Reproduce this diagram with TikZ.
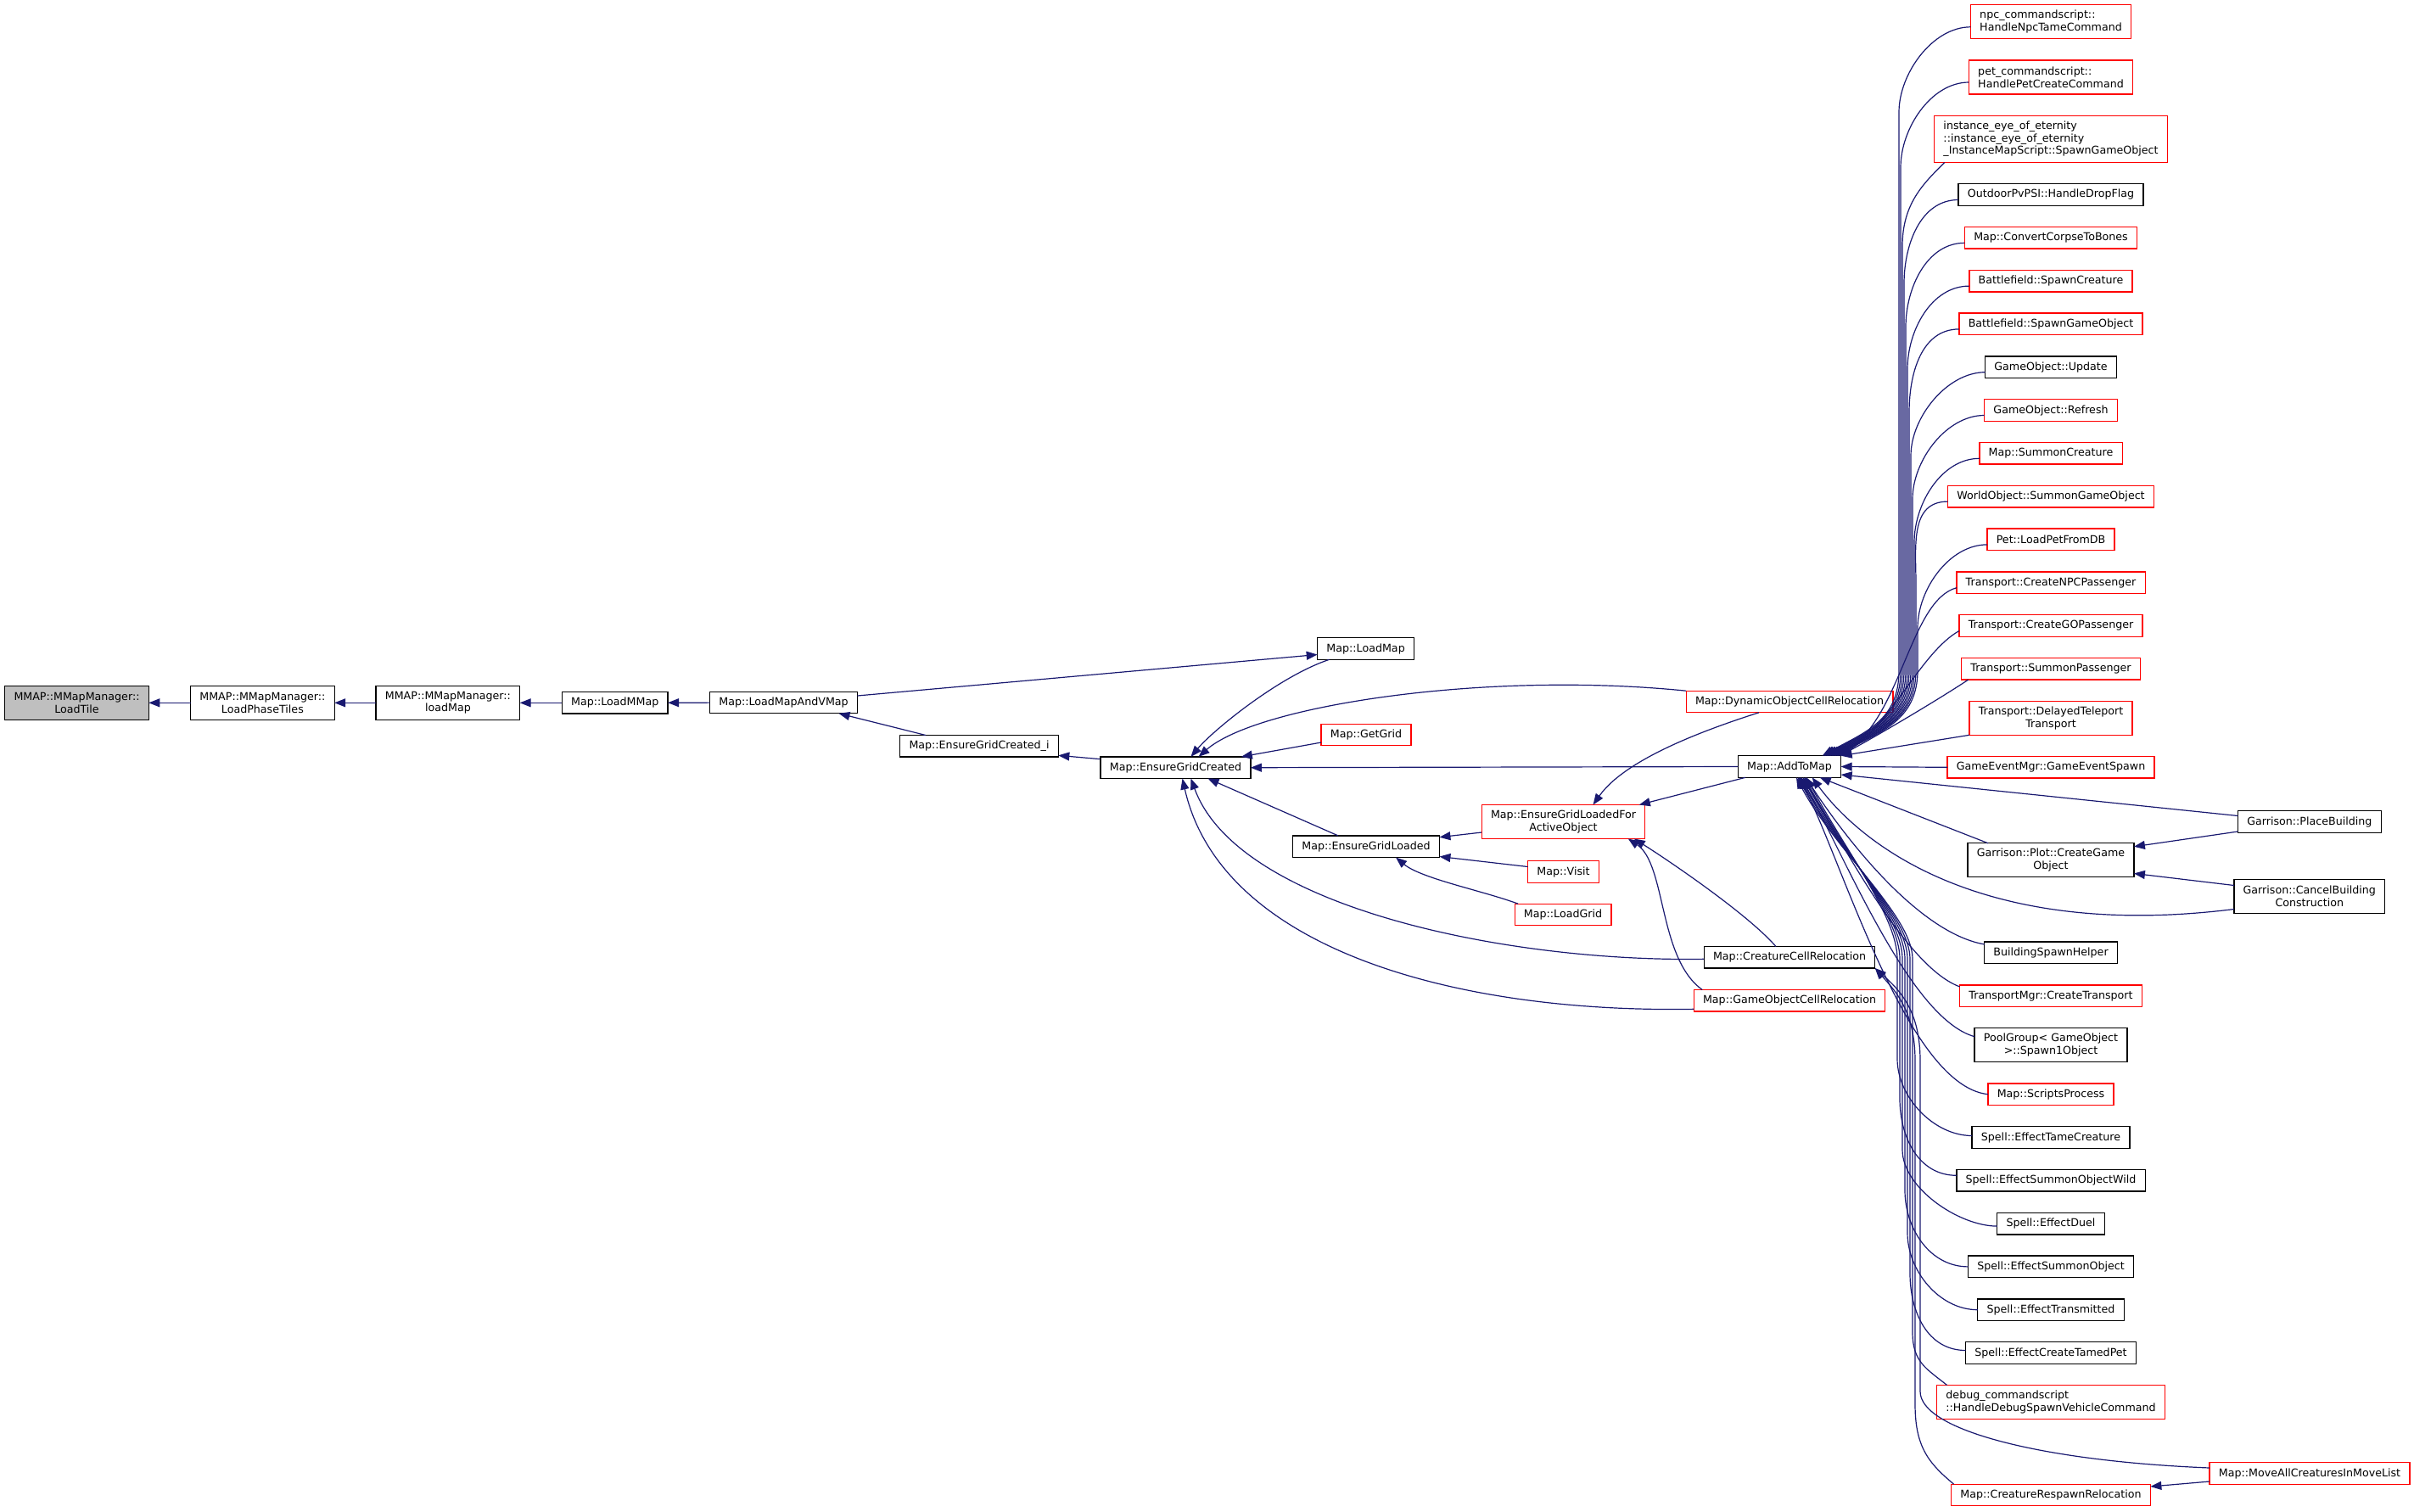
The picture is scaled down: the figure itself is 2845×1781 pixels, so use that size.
\documentclass[tikz,border=0pt]{standalone}
\usepackage{fontspec}
\setmainfont{DejaVu Sans}
\usetikzlibrary{arrows.meta,positioning}
\definecolor{edgeBlue}{HTML}{191970}
\definecolor{nodeRed}{HTML}{FF0000}
\definecolor{rootGrey}{HTML}{BFBFBF}

\begin{document}
\begin{tikzpicture}[
    x=1pt, y=-1pt,
    node distance=25.2pt,
    fn/.style={
      rectangle, draw=black, line width=1.3pt, fill=white, align=center,
      font=\fontsize{12.65pt}{14.7pt}\selectfont, outer sep=0pt,
      inner xsep=10.8pt, inner ysep=2pt, minimum height=25.6pt
    },
    fnred/.style={fn, draw=nodeRed},
    fnroot/.style={fn, fill=rootGrey},
    two/.style={minimum height=40pt},
    three/.style={minimum height=55.3pt},
    edge/.style={draw=edgeBlue, line width=1.2pt, {Triangle[length=13pt,width=10pt]}-}
  ]
  \useasboundingbox (0,0) rectangle (2845,1781);

  % left chain
  \node[fnroot, two] (loadTile) at (90.5,828.3) {MMAP::MMapManager::\\LoadTile};
  \node[fn, two] (loadPhaseTiles) at (309.4,828.3) {MMAP::MMapManager::\\LoadPhaseTiles};
  \node[fn, two] (loadMapMM) at (527.9,828.3) {MMAP::MMapManager::\\loadMap};
  \node[fn] (loadMMap) at (724.7,828.3) {Map::LoadMMap};
  \node[fn] (loadMapAndVMap) at (923.5,828) {Map::LoadMapAndVMap};
  \node[fn] (ensureGridCreatedI) at (1154,879.3) {Map::EnsureGridCreated\_i};
  \node[fn] (ensureGridCreated) at (1385.5,904.7) {Map::EnsureGridCreated};
  \node[fn] (loadMap) at (1609.6,764.5) {Map::LoadMap};
  \node[fnred] (getGrid) at (1610,866) {Map::GetGrid};
  \node[fn] (ensureGridLoaded) at (1610,997.7) {Map::EnsureGridLoaded};
  \node[fnred, two] (ensureGridLoadedFAO) at (1842.5,968.5) {Map::EnsureGridLoadedFor\\ActiveObject};
  \node[fnred] (visit) at (1842.5,1027.5) {Map::Visit};
  \node[fnred] (loadGrid) at (1842,1078) {Map::LoadGrid};
  \node[fnred] (dynObjCellReloc) at (2109,827) {Map::DynamicObjectCellRelocation};
  \node[fn] (addToMap) at (2109,903.5) {Map::AddToMap};
  \node[fn] (creatureCellReloc) at (2109,1128.3) {Map::CreatureCellRelocation};
  \node[fnred] (goCellReloc) at (2109,1179.3) {Map::GameObjectCellRelocation};

  % right column
  \node[fnred, two, align=left] (npcTame) at (2417,25.8) {npc\_commandscript::\\HandleNpcTameCommand};
  \node[fnred, two, align=left, below=of npcTame] (petCreate) {pet\_commandscript::\\HandlePetCreateCommand};
  \node[fnred, three, align=left, below=of petCreate] (eyeSpawnGO) {instance\_eye\_of\_eternity\\::instance\_eye\_of\_eternity\\\_InstanceMapScript::SpawnGameObject};
  \node[fn, below=of eyeSpawnGO] (dropFlag) {OutdoorPvPSI::HandleDropFlag};
  \node[fnred, below=of dropFlag] (corpseToBones) {Map::ConvertCorpseToBones};
  \node[fnred, below=of corpseToBones] (bfSpawnCreature) {Battlefield::SpawnCreature};
  \node[fnred, below=of bfSpawnCreature] (bfSpawnGO) {Battlefield::SpawnGameObject};
  \node[fn, below=of bfSpawnGO] (goUpdate) {GameObject::Update};
  \node[fnred, below=of goUpdate] (goRefresh) {GameObject::Refresh};
  \node[fnred, below=of goRefresh] (summonCreature) {Map::SummonCreature};
  \node[fnred, below=of summonCreature] (summonGO) {WorldObject::SummonGameObject};
  \node[fnred, below=of summonGO] (loadPetFromDB) {Pet::LoadPetFromDB};
  \node[fnred, below=of loadPetFromDB] (createNPCPass) {Transport::CreateNPCPassenger};
  \node[fnred, below=of createNPCPass] (createGOPass) {Transport::CreateGOPassenger};
  \node[fnred, below=of createGOPass] (summonPass) {Transport::SummonPassenger};
  \node[fnred, two, below=of summonPass] (delayedTeleport) {Transport::DelayedTeleport\\Transport};
  \node[fnred, below=of delayedTeleport] (gameEventSpawn) {GameEventMgr::GameEventSpawn};
  \node[fn, two, below=76.7pt of gameEventSpawn] (plotCreateGO) {Garrison::Plot::CreateGame\\Object};
  \node[fn, below=76.3pt of plotCreateGO] (buildingSpawnHelper) {BuildingSpawnHelper};
  \node[fnred, below=of buildingSpawnHelper] (createTransport) {TransportMgr::CreateTransport};
  \node[fn, two, below=of createTransport] (spawnOneObject) {PoolGroup< GameObject\\ >::Spawn1Object};
  \node[fnred, below=of spawnOneObject] (scriptsProcess) {Map::ScriptsProcess};
  \node[fn, below=of scriptsProcess] (effTame) {Spell::EffectTameCreature};
  \node[fn, below=of effTame] (effSummonWild) {Spell::EffectSummonObjectWild};
  \node[fn, below=of effSummonWild] (effDuel) {Spell::EffectDuel};
  \node[fn, below=of effDuel] (effSummonObj) {Spell::EffectSummonObject};
  \node[fn, below=of effSummonObj] (effTransmitted) {Spell::EffectTransmitted};
  \node[fn, below=of effTransmitted] (effCreateTamedPet) {Spell::EffectCreateTamedPet};
  \node[fnred, two, align=left, below=of effCreateTamedPet] (debugSpawnVehicle) {debug\_commandscript\\::HandleDebugSpawnVehicleCommand};
  \node[fnred, below=76.7pt of debugSpawnVehicle] (respawnReloc) {Map::CreatureRespawnRelocation};

  % far right
  \node[fn] (placeBuilding) at (2721.8,968.5) {Garrison::PlaceBuilding};
  \node[fn, two] (cancelBuilding) at (2721.8,1056.5) {Garrison::CancelBuilding\\Construction};
  \node[fnred] (moveAllCreatures) at (2722,1736.5) {Map::MoveAllCreaturesInMoveList};

  % left part edges
  \draw[edge] (loadTile) -- (loadPhaseTiles);
  \draw[edge] (loadPhaseTiles) -- (loadMapMM);
  \draw[edge] (loadMapMM) -- (loadMMap);
  \draw[edge] (loadMMap) -- (loadMapAndVMap);
  \draw[edge] ([yshift=-7pt]loadMap.west) -- ([yshift=8pt]loadMapAndVMap.east);
  \draw[edge] ([xshift=65pt]loadMapAndVMap.south) -- ([xshift=-63pt]ensureGridCreatedI.north);
  \draw[edge] ([yshift=-11pt]ensureGridCreatedI.east) -- ([yshift=10pt]ensureGridCreated.west);
  \draw[edge] ([xshift=18pt]ensureGridCreated.north) .. controls +(25,-30) and +(-60,20) .. ([xshift=-43pt]loadMap.south);
  \draw[edge] ([xshift=-11pt]ensureGridCreated.north east) -- ([yshift=-9pt]getGrid.west);
  \draw[edge] ([xshift=27pt]ensureGridCreated.north) .. controls +(68,-60) and +(-238,-24) .. (dynObjCellReloc.north west);
  \draw[edge] (ensureGridCreated.east) -- (addToMap.west);
  \draw[edge] ([xshift=38pt]ensureGridCreated.south) -- ([xshift=-33pt]ensureGridLoaded.north);
  \draw[edge] ([xshift=18pt]ensureGridCreated.south) .. controls +(56,153) and +(-228,4) .. ([yshift=-2pt]creatureCellReloc.west);
  \draw[edge] ([xshift=8pt]ensureGridCreated.south) .. controls +(46,203) and +(-276,5) .. ([yshift=-10pt]goCellReloc.west);
  \draw[edge] ([yshift=11pt]ensureGridLoaded.east) -- ([yshift=-12.5pt]ensureGridLoadedFAO.west);
  \draw[edge] ([yshift=1pt]ensureGridLoaded.south east) -- ([yshift=6pt]visit.west);
  \draw[edge] ([xshift=35pt]ensureGridLoaded.south) .. controls +(30,25) and +(-40,-15) .. ([xshift=4pt]loadGrid.north west);
  \draw[edge] ([xshift=35pt]ensureGridLoadedFAO.north) .. controls +(38,-54) and +(-63,20) .. ([xshift=-36pt]dynObjCellReloc.south);
  \draw[edge] ([xshift=-7pt]ensureGridLoadedFAO.north east) -- ([xshift=-52pt]addToMap.south);
  \draw[edge] ([xshift=-13pt]ensureGridLoadedFAO.south east) .. controls +(35,22) and +(-35,-40) .. ([xshift=-16pt]creatureCellReloc.north);
  \draw[edge] ([xshift=-20pt]ensureGridLoadedFAO.south east) .. controls +(45,30) and +(-52,-37) .. ([xshift=10pt]goCellReloc.north west);

  % callers of AddToMap, top bundle
  \draw[edge] ([xshift=-22pt]addToMap.north east) .. controls +(50,-28) and +(0,60) .. (2238,790) -- (2238,132) .. controls +(0,-45) and +(-45,0) .. ([yshift=-6pt]npcTame.west);
  \draw[edge] ([xshift=-20pt]addToMap.north east) .. controls +(50,-28) and +(0,60) .. (2240,790) -- (2240,197) .. controls +(0,-45) and +(-45,0) .. ([yshift=-6pt]petCreate.west);
  \draw[edge] ([xshift=-19pt]addToMap.north east) .. controls +(50,-28) and +(0,60) .. (2242,790) -- (2242,290) .. controls +(0,-50) and +(-25,25) .. ([xshift=12pt]eyeSpawnGO.south west);
  \draw[edge] ([xshift=-17pt]addToMap.north east) .. controls +(50,-28) and +(0,60) .. (2244,790) -- (2244,334) .. controls +(0,-45) and +(-45,0) .. ([yshift=-6pt]dropFlag.west);
  \draw[edge] ([xshift=-16pt]addToMap.north east) .. controls +(50,-28) and +(0,60) .. (2246,790) -- (2246,385) .. controls +(0,-45) and +(-45,0) .. ([yshift=-6pt]corpseToBones.west);
  \draw[edge] ([xshift=-14pt]addToMap.north east) .. controls +(50,-28) and +(0,60) .. (2248,790) -- (2248,435) .. controls +(0,-45) and +(-45,0) .. ([yshift=-6pt]bfSpawnCreature.west);
  \draw[edge] ([xshift=-13pt]addToMap.north east) .. controls +(50,-28) and +(0,60) .. (2250,790) -- (2250,486) .. controls +(0,-45) and +(-45,0) .. ([yshift=-6pt]bfSpawnGO.west);
  \draw[edge] ([xshift=-11pt]addToMap.north east) .. controls +(50,-28) and +(0,60) .. (2252,790) -- (2252,537) .. controls +(0,-45) and +(-45,0) .. ([yshift=-6pt]goUpdate.west);
  \draw[edge] ([xshift=-10pt]addToMap.north east) .. controls +(50,-28) and +(0,60) .. (2254,790) -- (2254,588) .. controls +(0,-45) and +(-45,0) .. ([yshift=-6pt]goRefresh.west);
  \draw[edge] ([xshift=-8pt]addToMap.north east) .. controls +(50,-28) and +(0,60) .. (2256,790) -- (2256,639) .. controls +(0,-45) and +(-45,0) .. ([yshift=-6pt]summonCreature.west);
  \draw[edge] ([xshift=-7pt]addToMap.north east) .. controls +(50,-28) and +(0,60) .. (2258,790) -- (2258,689) .. controls +(0,-45) and +(-45,0) .. ([yshift=-6pt]summonGO.west);
  \draw[edge] ([xshift=-5pt]addToMap.north east) .. controls +(50,-28) and +(0,60) .. (2260,790) -- (2260,740) .. controls +(0,-45) and +(-45,0) .. ([yshift=-6pt]loadPetFromDB.west);
  \draw[edge] ([xshift=-4pt]addToMap.north east) .. controls +(75,-45) and +(-55,15) .. ([yshift=-6pt]createNPCPass.west);
  \draw[edge] ([xshift=-2pt]addToMap.north east) .. controls +(60,-35) and +(-45,25) .. ([yshift=-6pt]createGOPass.west);
  \draw[edge] ([xshift=-1pt]addToMap.north east) .. controls +(55,-30) and +(-30,20) .. ([xshift=8pt]summonPass.south west);
  \draw[edge] (addToMap.north east) -- (delayedTeleport.south west);

  % callers of AddToMap, right side
  \draw[edge] (addToMap.east) -- (gameEventSpawn.west);
  \draw[edge] ([yshift=-9.5pt]addToMap.east) -- ([yshift=7pt]placeBuilding.west);
  \draw[edge] ([xshift=-25pt]addToMap.south east) -- ([xshift=24pt]plotCreateGO.north west);
  \draw[edge] ([xshift=-34pt]addToMap.south east) .. controls +(54,74) and +(-303,38) .. ([yshift=-15pt]cancelBuilding.west);
  \draw[edge] ([xshift=19pt]addToMap.south) .. controls +(62,94) and +(-69,-12) .. ([yshift=10pt]buildingSpawnHelper.west);
  \draw[edge] ([xshift=16pt]addToMap.south) .. controls +(55,94) and +(-60,-22) .. ([yshift=-2pt]createTransport.north west);
  \draw[edge] ([xshift=13pt]addToMap.south) .. controls +(53,94) and +(-76,-21) .. ([yshift=10pt]spawnOneObject.west);
  \draw[edge] ([xshift=11pt]addToMap.south) .. controls +(50,94) and +(-96,-10) .. (scriptsProcess.west);
  \draw[edge] ([yshift=16pt]plotCreateGO.east) -- ([yshift=-11.5pt]placeBuilding.west);
  \draw[edge] ([yshift=-15.6pt]plotCreateGO.east) -- ([yshift=13pt]cancelBuilding.west);

  % callers of AddToMap, bottom bundle
  \draw[edge] ([xshift=20pt]addToMap.south) .. controls +(45,85) and +(0,-50) .. (2236,1130) -- (2236,1248) .. controls +(0,45) and +(-45,0) .. ([yshift=2pt]effTame.west);
  \draw[edge] ([xshift=18pt]addToMap.south) .. controls +(45,85) and +(0,-50) .. (2239,1130) -- (2239,1295) .. controls +(0,45) and +(-45,0) .. ([yshift=6pt]effSummonWild.west);
  \draw[edge] ([xshift=16pt]addToMap.south) .. controls +(45,85) and +(0,-50) .. (2242,1130) -- (2242,1355) .. controls +(0,45) and +(-45,0) .. ([yshift=-3pt]effDuel.west);
  \draw[edge] ([xshift=14pt]addToMap.south) .. controls +(45,85) and +(0,-50) .. (2245,1130) -- (2245,1403) .. controls +(0,45) and +(-45,0) .. (effSummonObj.west);
  \draw[edge] ([xshift=12pt]addToMap.south) .. controls +(45,85) and +(0,-50) .. (2248,1130) -- (2248,1453) .. controls +(0,45) and +(-45,0) .. (effTransmitted.west);
  \draw[edge] ([xshift=10pt]addToMap.south) .. controls +(45,85) and +(0,-50) .. (2251,1130) -- (2251,1501) .. controls +(0,45) and +(-45,0) .. ([yshift=3pt]effCreateTamedPet.west);
  \draw[edge] ([xshift=8pt]addToMap.south) .. controls +(45,85) and +(0,-50) .. (2254,1130) -- (2254,1570) .. controls +(0,35) and +(-25,-20) .. ([xshift=12pt]debugSpawnVehicle.north west);

  % callers of CreatureCellRelocation
  \draw[edge] (creatureCellReloc.south east) .. controls +(22,25) and +(0,-60) .. (2257,1250) -- (2257,1655) .. controls +(0,50) and +(-30,-25) .. ([xshift=3pt]respawnReloc.north west);
  \draw[edge] (creatureCellReloc.south east) .. controls +(28,25) and +(0,-60) .. (2263,1250) -- (2263,1640) .. controls +(0,45) and +(-200,-8) .. ([yshift=6.5pt]moveAllCreatures.west);
  \draw[edge] ([yshift=10pt]respawnReloc.east) -- ([yshift=-9.5pt]moveAllCreatures.west);
\end{tikzpicture}
\end{document}
